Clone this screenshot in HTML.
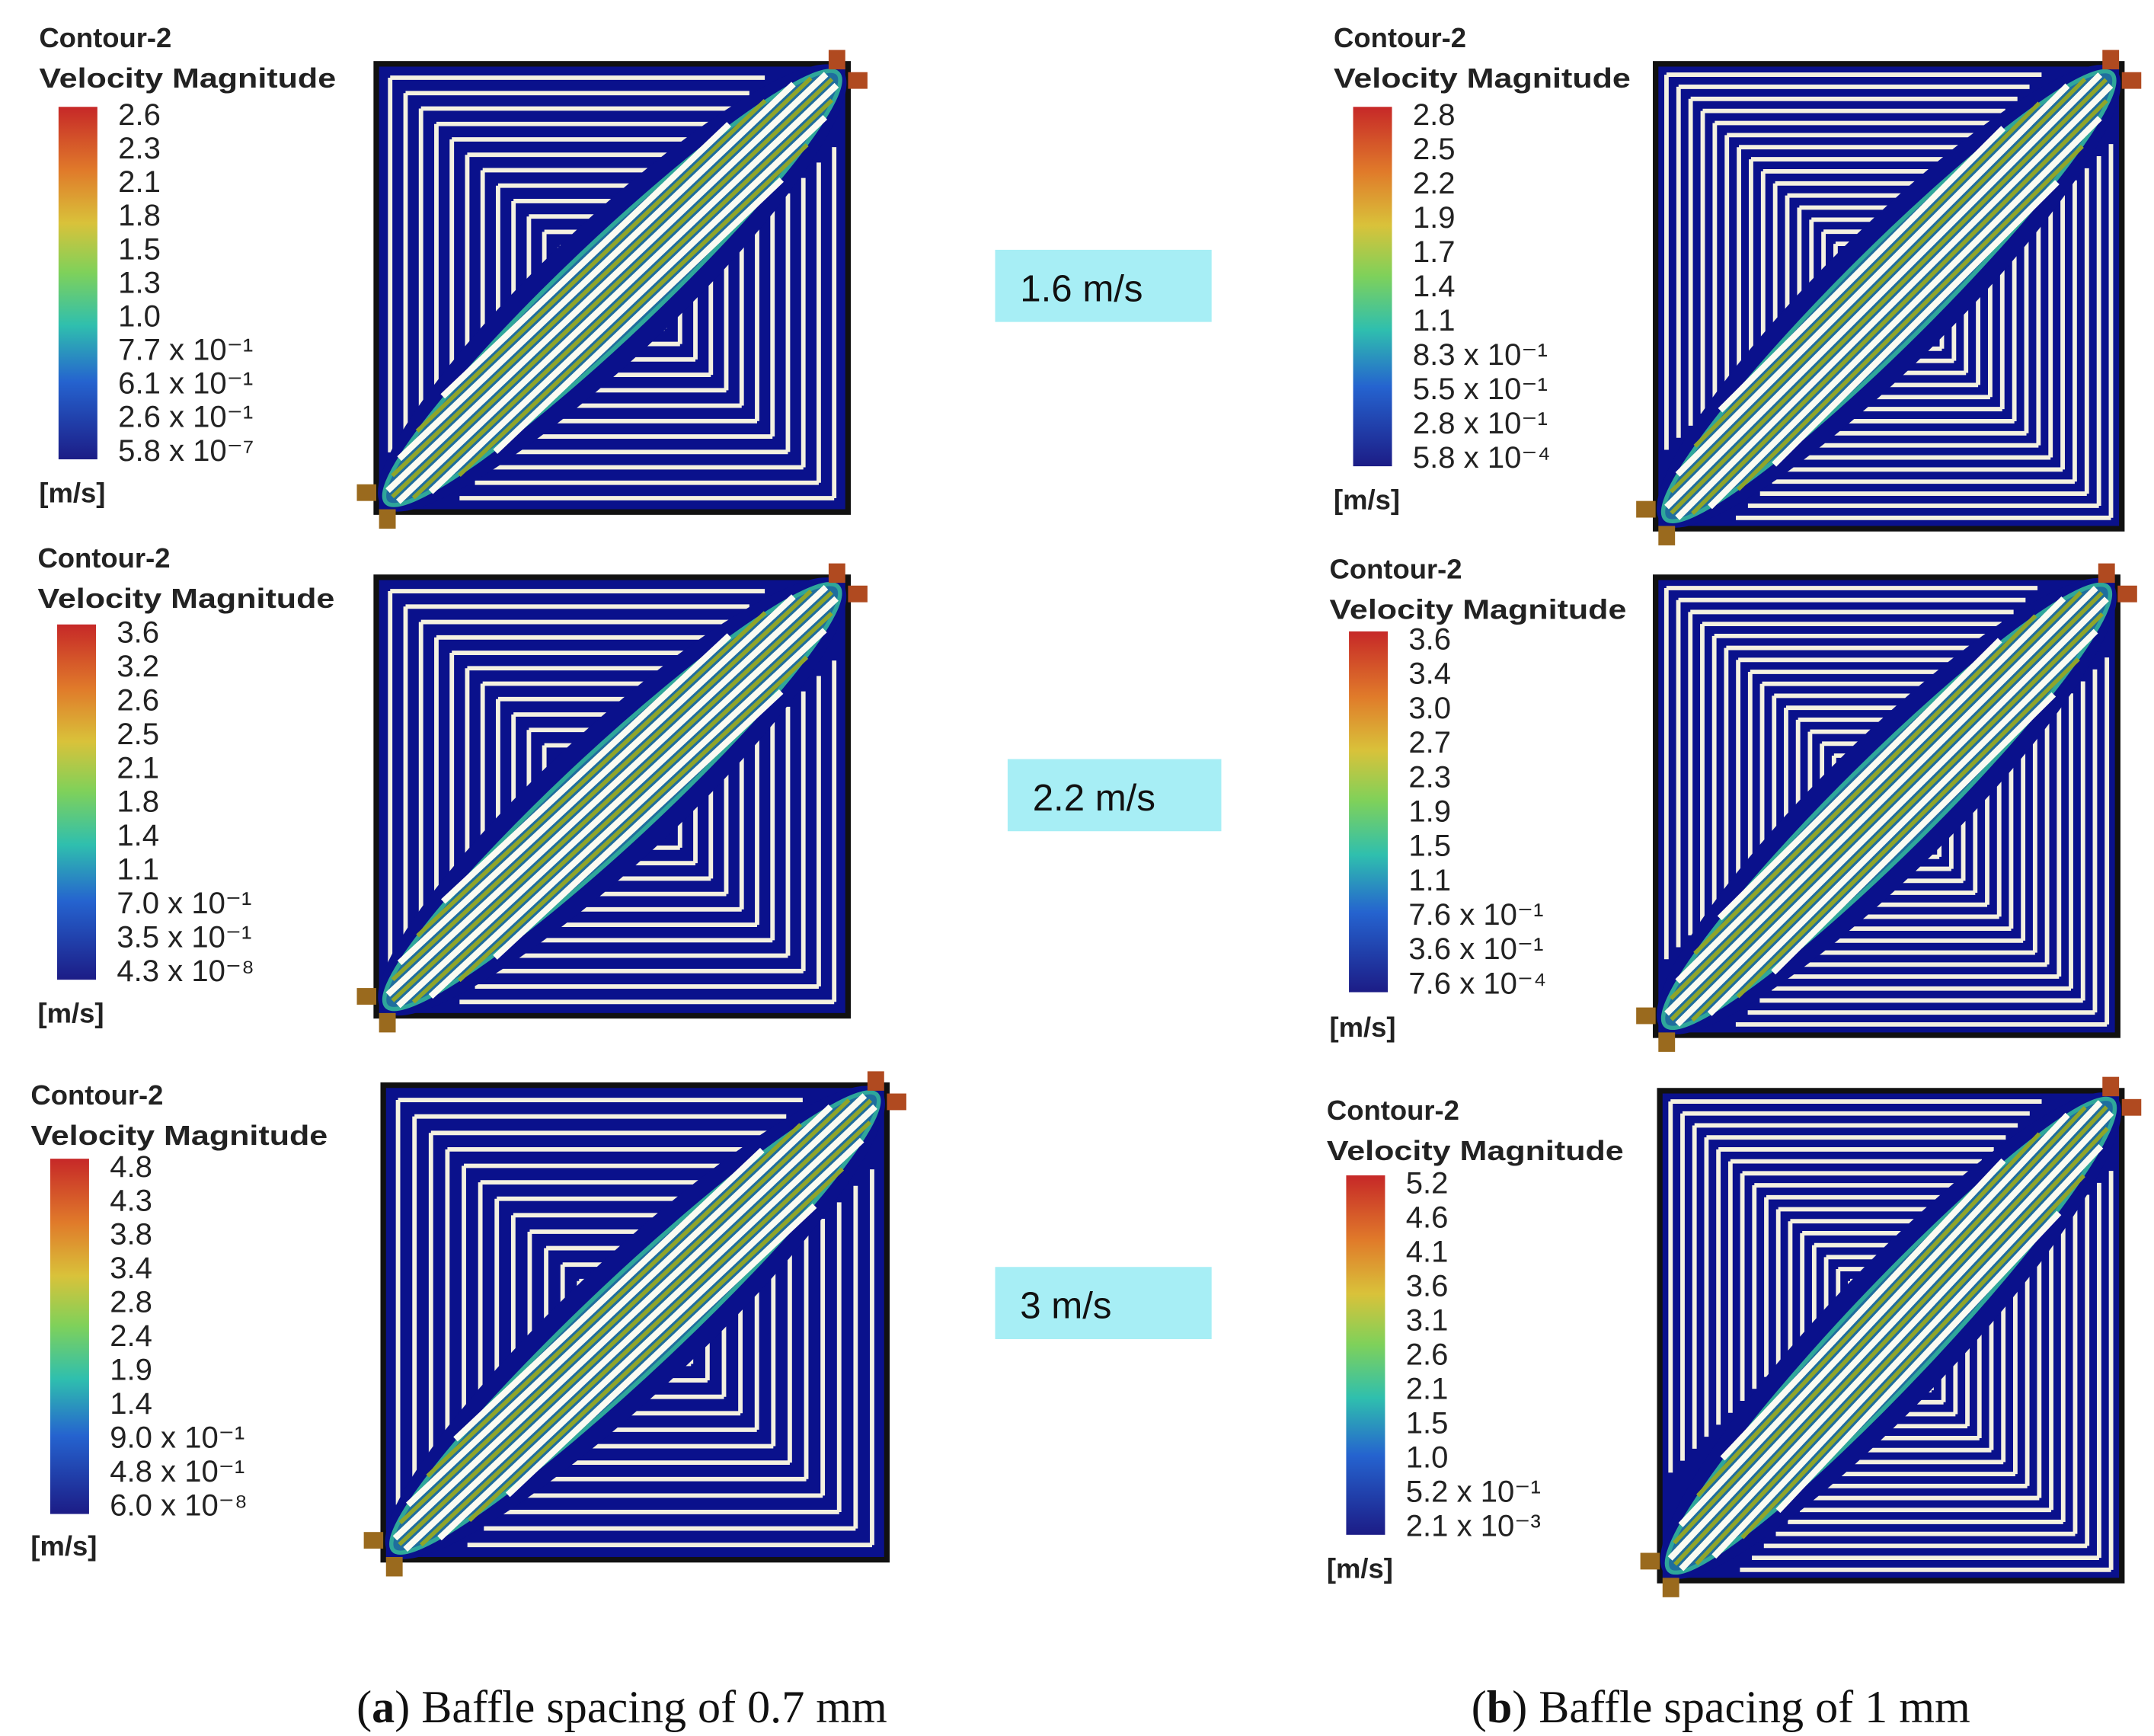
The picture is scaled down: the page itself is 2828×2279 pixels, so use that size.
<!DOCTYPE html>
<html><head><meta charset="utf-8"><style>
html,body{margin:0;padding:0;background:#fff;}
svg{display:block;}
.lg{font-family:"Liberation Sans",sans-serif;font-size:20px;fill:#222;font-weight:bold;}
.tk{font-family:"Liberation Sans",sans-serif;font-size:22px;fill:#222;}
.cap{font-family:"Liberation Serif",serif;font-size:33px;fill:#111;}
.spd{font-family:"Liberation Sans",sans-serif;font-size:27px;fill:#111;}
</style></head><body>
<svg id="fig" width="2828" height="2279" viewBox="0 0 1552 1251" xmlns="http://www.w3.org/2000/svg">
<defs>
<linearGradient id="cbar" x1="0" y1="0" x2="0" y2="1">
<stop offset="0" stop-color="#c62828"/><stop offset="0.18" stop-color="#e07a2a"/>
<stop offset="0.33" stop-color="#d9c23a"/><stop offset="0.47" stop-color="#7fd15a"/>
<stop offset="0.62" stop-color="#2fbfae"/><stop offset="0.78" stop-color="#2563cf"/>
<stop offset="1" stop-color="#1c1c86"/>
</linearGradient>
</defs>
<g id="content"></g>
</svg>
<script>
const NS="http://www.w3.org/2000/svg";
const root=document.getElementById('content');
function el(tag,attrs,parent){const e=document.createElementNS(NS,tag);for(const k in attrs)e.setAttribute(k,attrs[k]);(parent||root).appendChild(e);return e;}

// legend tick labels (data)
const ticksA1=["2.6","2.3","2.1","1.8","1.5","1.3","1.0","7.7 x 10⁻¹","6.1 x 10⁻¹","2.6 x 10⁻¹","5.8 x 10⁻⁷"];
const ticksA2=["3.6","3.2","2.6","2.5","2.1","1.8","1.4","1.1","7.0 x 10⁻¹","3.5 x 10⁻¹","4.3 x 10⁻⁸"];
const ticksA3=["4.8","4.3","3.8","3.4","2.8","2.4","1.9","1.4","9.0 x 10⁻¹","4.8 x 10⁻¹","6.0 x 10⁻⁸"];
const ticksB1=["2.8","2.5","2.2","1.9","1.7","1.4","1.1","8.3 x 10⁻¹","5.5 x 10⁻¹","2.8 x 10⁻¹","5.8 x 10⁻⁴"];
const ticksB2=["3.6","3.4","3.0","2.7","2.3","1.9","1.5","1.1","7.6 x 10⁻¹","3.6 x 10⁻¹","7.6 x 10⁻⁴"];
const ticksB3=["5.2","4.6","4.1","3.6","3.1","2.6","2.1","1.5","1.0","5.2 x 10⁻¹","2.1 x 10⁻³"];
const speeds=["1.6 m/s","2.2 m/s","3 m/s"];

function legend(name,x,y,ticks,barTop,barBot,unitsY){
  const g=el('g',{});
  
  
  const t1=el('text',{x:x,y:y,class:'lg'},g);t1.textContent='Contour-2';
  
  const t2=el('text',{x:x,y:y+29,class:'lg',textLength:214,lengthAdjust:'spacingAndGlyphs'},g);t2.textContent='Velocity Magnitude';
  
  const bx=x+14;
  const bar=el('rect',{x:bx,y:barTop,width:28,height:barBot-barTop,fill:'url(#cbar)'},g);
  
  const n=ticks.length;
  ticks.forEach((s,i)=>{
    const ty=barTop+6+i*(barBot-barTop-12)/(n-1)+7;
    const t=el('text',{x:bx+43,y:ty,class:'tk'},g);t.textContent=s;
    
  });
  const u=el('text',{x:x,y:unitsY,class:'lg'},g);u.textContent='[m/s]';
  
}

function plate(name,x0,y0,x1,y1,nL){
  const g=el('g',{});
  
  
  const W=x1-x0,H=y1-y0;
  const bg='#0a118c';
  el('rect',{x:x0,y:y0,width:W,height:H,fill:bg,stroke:'#111',"stroke-width":4},g);
  const step=(W*0.5)/(nL+1.3), pad=step*0.9, gapS=50;
  for(let k=0;k<nL;k++){
    const o=pad+k*step;
    let hx=W-gapS-o; if(hx>o){
      el('line',{x1:x0+o,y1:y0+o,x2:x0+hx,y2:y0+o,stroke:'#f4f1e0',"stroke-width":3.2},g);
      el('line',{x1:x0+o,y1:y0+o,x2:x0+o,y2:y0+hx,stroke:'#f4f1e0',"stroke-width":3.2},g);
    }
    const ax=x1-o, ay=y1-o;
    let sx=x0+gapS+o;
    if(sx<ax){
      el('line',{x1:sx,y1:ay,x2:ax,y2:ay,stroke:'#f4f1e0',"stroke-width":3.2},g);
      el('line',{x1:ax,y1:ay,x2:ax,y2:y0+gapS+o,stroke:'#f4f1e0',"stroke-width":3.2},g);
    }
  }
  const cx=(x0+x1)/2, cy=(y0+y1)/2, L=Math.hypot(W,H)/2;
  const ang=-Math.atan2(H,W)*180/Math.PI;
  const lg=el('g',{transform:`translate(${cx},${cy}) rotate(${ang})`},g);
  el('ellipse',{cx:0,cy:0,rx:L-6,ry:48,fill:bg},lg);
  el('ellipse',{cx:0,cy:0,rx:L-10,ry:33,fill:'#1f6e9e',stroke:'#2fa79a',"stroke-width":3},lg);
  for(let i=0;i<6;i++){
    const off=-27.5+i*11;
    const hl=Math.sqrt(Math.max(0,1-(off*off)/(36*36)))*(L-14);
    el('line',{x1:-hl,y1:off,x2:hl,y2:off,stroke:'#fbfbf2',"stroke-width":4.5},lg);
    if(i<5){
      const o2=off+5.5, h2=Math.sqrt(Math.max(0,1-(o2*o2)/(36*36)))*(L-16);
      el('line',{x1:-h2,y1:o2,x2:h2,y2:o2,stroke:'#8fa52a',"stroke-width":3},lg);
    }
  }
  const pc='#9a6a1e';
  el('rect',{x:x1-14,y:y0-10,width:12,height:14,fill:'#b04a20'},g);
  el('rect',{x:x1,y:y0+6,width:14,height:12,fill:'#b04a20'},g);
  el('rect',{x:x0-14,y:y1-20,width:14,height:12,fill:pc},g);
  el('rect',{x:x0+2,y:y1-2,width:12,height:14,fill:pc},g);
}

plate('plate-a-1.6',271,46,611,369,14);
plate('plate-a-2.2',271,416,611,732,14);
plate('plate-a-3',276,782,639,1124,14);
plate('plate-b-1.6',1193,46,1529,381,18);
plate('plate-b-2.2',1193,416,1526,746,18);
plate('plate-b-3',1196,786,1529,1139,18);

legend('legend-a-1.6',28,34,ticksA1,77,331,362);
legend('legend-a-2.2',27,409,ticksA2,450,706,737);
legend('legend-a-3',22,796,ticksA3,835,1091,1121);
legend('legend-b-1.6',961,34,ticksB1,77,336,367);
legend('legend-b-2.2',958,417,ticksB2,455,715,747);
legend('legend-b-3',956,807,ticksB3,847,1106,1137);

const boxes=[[717,180,156,52],[726,547,154,52],[717,913,156,52]];
speeds.forEach((s,i)=>{
  const b=boxes[i];
  const r=el('rect',{x:b[0],y:b[1],width:b[2],height:b[3],fill:'#a7eef5'});
  
  const t=el('text',{x:b[0]+18,y:b[1]+37,class:'spd'});t.textContent=s;
  
});

function caption(x,bold,rest,name){
  const t=el('text',{x:x,y:1241,class:'cap',"text-anchor":'middle'});
  
  const a=el('tspan',{},t);a.textContent='(';
  const b=el('tspan',{"font-weight":'bold'},t);b.textContent=bold;
  const c=el('tspan',{},t);c.textContent=') '+rest;
}
caption(448,'a','Baffle spacing of 0.7 mm','caption-a');
caption(1240,'b','Baffle spacing of 1 mm','caption-b');
</script>
</body></html>
